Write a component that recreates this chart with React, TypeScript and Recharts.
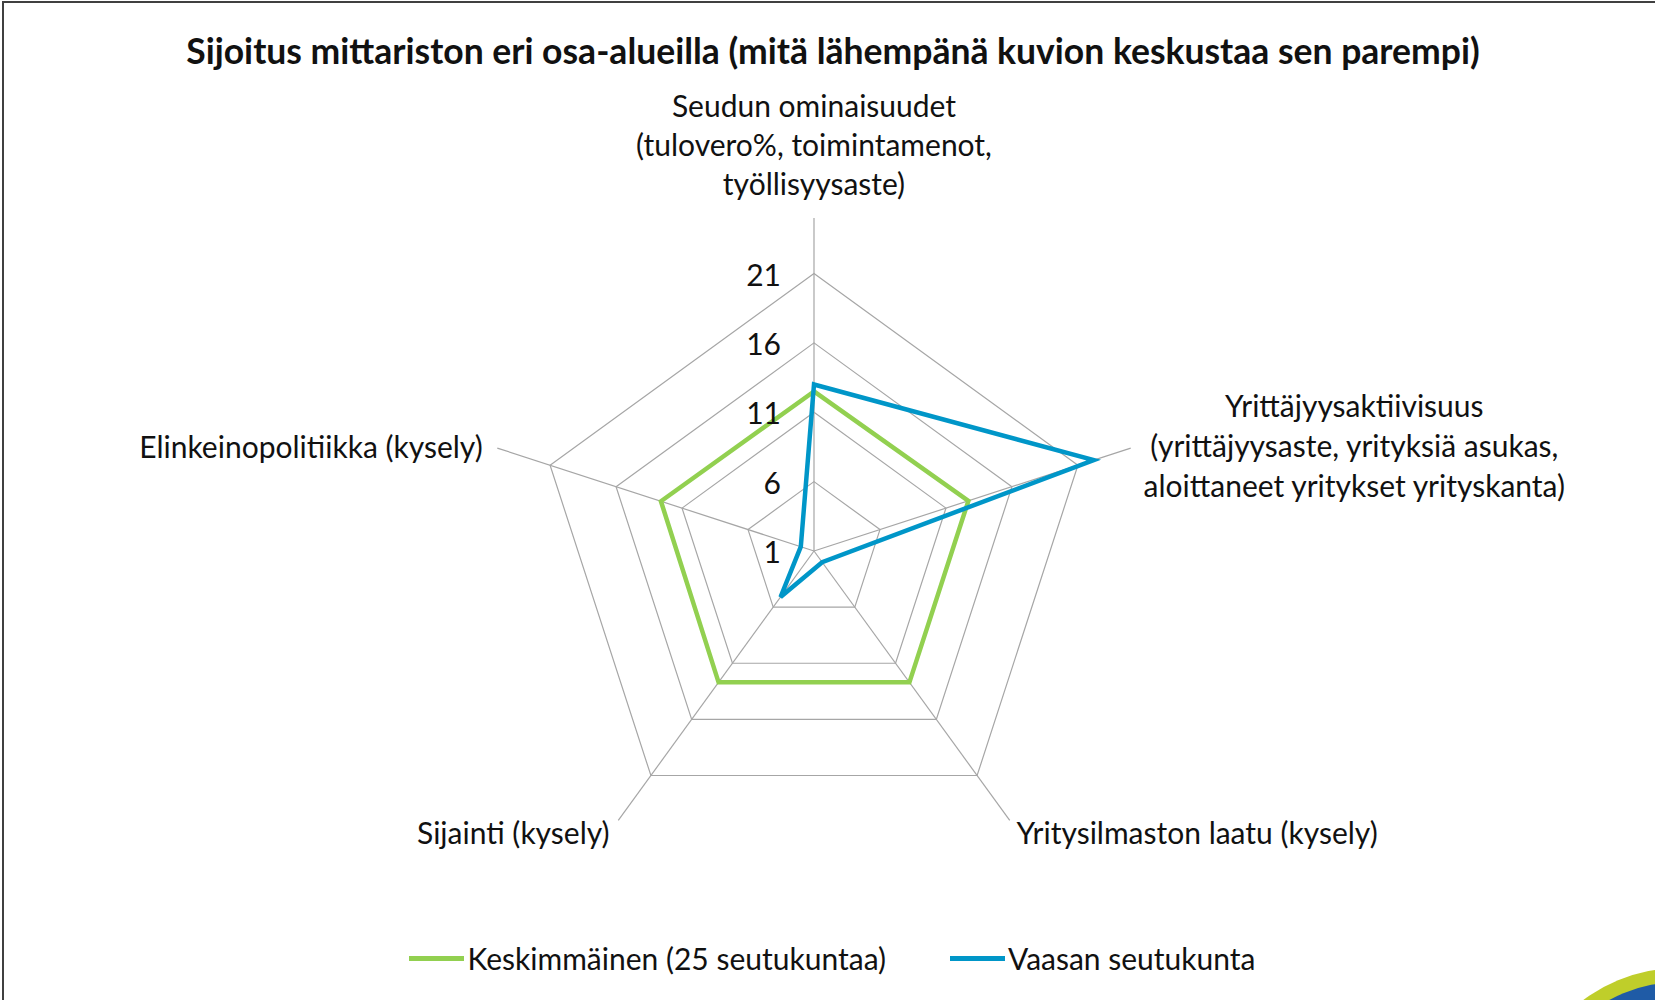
import React from 'react';
import { RadarChart, Radar, PolarGrid, PolarAngleAxis, PolarRadiusAxis, Legend } from 'recharts';

const FONT = 'Lato, "Open Sans", sans-serif';

// categories, clockwise from the top
const categories = [
    'Seudun ominaisuudet',
    'Yrittäjyysaktiivisuus',
    'Yritysilmaston laatu (kysely)',
    'Sijainti (kysely)',
    'Elinkeinopolitiikka (kysely)',
];

const categoryLines = [
    ['Seudun ominaisuudet', '(tulovero%, toimintamenot,', 'työllisyysaste)'],
    ['Yrittäjyysaktiivisuus', '(yrittäjyysaste, yrityksiä asukas,', 'aloittaneet yritykset yrityskanta)'],
    ['Yritysilmaston laatu (kysely)'],
    ['Sijainti (kysely)'],
    ['Elinkeinopolitiikka (kysely)'],
];

const keskimmainen = [12.5, 12.7, 12.7, 12.7, 12.6];
const vaasa = [13, 22.2, 2, 5.1, 2];

const radiusTicks = [1, 6, 11, 16, 21];
const radiusDomain = [1, 25];

const seriesNames = {
    keskimmainen: 'Keskimmäinen (25 seutukuntaa)',
    vaasa: 'Vaasan seutukunta',
};
const seriesColors = {
    keskimmainen: '#92D050',
    vaasa: '#0096C8',
};

const data = categories.map((c, i) => ({
    category: c,
    keskimmainen: keskimmainen[i],
    vaasa: vaasa[i],
}));

function AngleTick(props: any) {
    const { x, y, payload } = props;
    const idx = categories.indexOf(payload.value);
    const lines = categoryLines[idx] || [String(payload.value)];
    const common = { fontFamily: FONT, fontSize: 30, fill: '#111' };

    if (idx === 0) {
        return (
            <text x={x} y={y} textAnchor="middle" dominantBaseline="central" {...common}>
                {lines.map((l, i) => (
                    <tspan key={i} x={x} y={y - 105 + i * 39}>{l}</tspan>
                ))}
            </text>
        );
    }
    if (idx === 1) {
        return (
            <text x={x + 216} y={y} textAnchor="middle" dominantBaseline="central" {...common}>
                {lines.map((l, i) => (
                    <tspan key={i} x={x + 216} y={y - 41 + i * 40}>{l}</tspan>
                ))}
            </text>
        );
    }
    const anchor = idx === 2 ? 'start' : 'end';
    const dx = idx === 2 ? 2 : idx === 3 ? -4 : -7;
    const dy = idx === 4 ? 0 : 5;
    return (
        <text x={x + dx} y={y + dy} textAnchor={anchor} dominantBaseline="central" {...common}>
            {lines[0]}
        </text>
    );
}

function RadiusTick(props: any) {
    const { x, y, payload } = props;
    return (
        <text x={x - 33} y={y} textAnchor="end" dominantBaseline="central"
            fontFamily={FONT} fontSize={30} fill="#111">
            {payload.value}
        </text>
    );
}

function LegendContent() {
    const keys = ['keskimmainen', 'vaasa'] as const;
    return (
        <div style={{ display: 'flex', justifyContent: 'center', alignItems: 'center', gap: 64, paddingLeft: 10 }}>
            {keys.map(k => (
                <div key={k} style={{ display: 'flex', alignItems: 'center' }}>
                    <span style={{ display: 'inline-block', width: 55, height: 5, background: seriesColors[k], marginRight: 3 }} />
                    <span style={{ fontFamily: FONT, fontSize: 30, color: '#111' }}>{seriesNames[k]}</span>
                </div>
            ))}
        </div>
    );
}

export default function App() {
    return (
        <div style={{ position: 'absolute', left: 0, top: 0, width: 1655, height: 1000, background: '#fff', overflow: 'hidden' }}>
            <div style={{
                position: 'absolute', left: 2, top: 1, width: 1700, height: 1040,
                border: '2px solid #404040', boxSizing: 'border-box',
            }} />
            <div style={{
                position: 'absolute', left: 0, top: 29, width: 1666, textAlign: 'center',
                fontFamily: FONT, fontWeight: 700, fontSize: 35.5, color: '#111', lineHeight: '44px',
            }}>
                Sijoitus mittariston eri osa-alueilla (mitä lähempänä kuvion keskustaa sen parempi)
            </div>
            <RadarChart width={1655} height={1000} data={data} cx={814} cy={551} outerRadius={333}
                margin={{ top: 0, right: 0, bottom: 0, left: 0 }}>
                <PolarGrid stroke="#A6A6A6" strokeWidth={1.2} />
                <PolarAngleAxis dataKey="category" tick={AngleTick} tickLine={false} axisLine={false} />
                <PolarRadiusAxis angle={90} domain={radiusDomain} ticks={radiusTicks} type="number"
                    axisLine={false} tickLine={false} tick={RadiusTick} allowDataOverflow />
                <Radar name={seriesNames.keskimmainen} dataKey="keskimmainen" stroke={seriesColors.keskimmainen}
                    strokeWidth={4.5} fill="none" fillOpacity={0} dot={false} isAnimationActive={false} />
                <Radar name={seriesNames.vaasa} dataKey="vaasa" stroke={seriesColors.vaasa}
                    strokeWidth={4.5} fill="none" fillOpacity={0} dot={false} isAnimationActive={false} />
                <Legend content={LegendContent} wrapperStyle={{ position: 'absolute', left: 0, top: 940, width: 1655 }} />
            </RadarChart>
            {/* corner logo fragment */}
            <svg width={1655} height={1000} style={{ position: 'absolute', left: 0, top: 0, pointerEvents: 'none' }}>
                <circle cx={1680} cy={1130} r={162} fill="#BFCE2A" />
                <circle cx={1680} cy={1130} r={148} fill="#1F5BA6" />
            </svg>
        </div>
    );
}
